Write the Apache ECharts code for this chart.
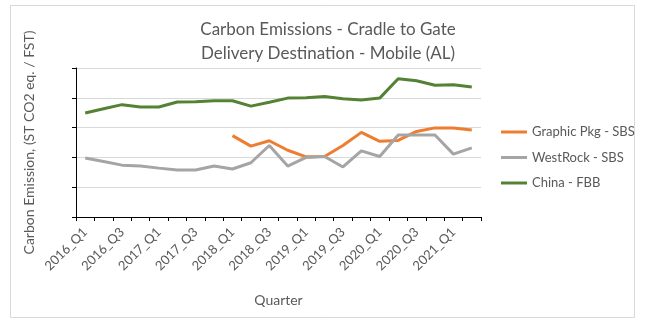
<!DOCTYPE html>
<html>
<head>
<meta charset="utf-8">
<script src="https://cdn.jsdelivr.net/npm/echarts@6/dist/echarts.min.js"></script>
<style>html,body{margin:0;padding:0;background:#fff}#c{width:649px;height:326px}</style>
</head>
<body>
<div id="c"></div>
<script>
const categories = ['2016_Q1','2016_Q2','2016_Q3','2016_Q4','2017_Q1','2017_Q2','2017_Q3','2017_Q4',
  '2018_Q1','2018_Q2','2018_Q3','2018_Q4','2019_Q1','2019_Q2','2019_Q3','2019_Q4',
  '2020_Q1','2020_Q2','2020_Q3','2020_Q4','2021_Q1','2021_Q2'];
const graphicPkg = [null,null,null,null,null,null,null,null,
  2.73,2.38,2.56,2.24,2.02,2.03,2.40,2.84,2.54,2.57,2.87,2.99,2.99,2.92];
const westRock = [1.98,1.86,1.74,1.71,1.64,1.58,1.58,1.71,1.61,1.82,2.40,1.71,
  2.00,2.03,1.68,2.22,2.03,2.75,2.75,2.75,2.11,2.32];
const china = [3.49,3.63,3.77,3.69,3.69,3.86,3.87,3.90,3.90,3.72,3.85,3.99,
  4.00,4.04,3.97,3.93,3.99,4.64,4.57,4.42,4.44,4.36];
const seriesNames = ['Graphic Pkg - SBS','WestRock - SBS','China - FBB'];

const FONT = 'Lato, "Open Sans", sans-serif';
const chart = echarts.init(document.getElementById('c'), null, {renderer:'canvas'});
chart.setOption({
  animation:false,
  backgroundColor:'#fff',
  textStyle:{fontFamily:FONT},
  title:{
    text:'Carbon Emissions - Cradle to Gate\nDelivery Destination - Mobile (AL)',
    left:323, top:13, textAlign:'center',
    textStyle:{fontFamily:FONT,fontSize:17,fontWeight:'normal',color:'#595959',lineHeight:23.5}
  },
  graphic:[{type:'rect',shape:{x:10.5,y:5.5,width:624,height:312},
    style:{fill:'none',stroke:'#d9d9d9',lineWidth:1},silent:true}],
  legend:{
    orient:'vertical', left:496, top:119,
    itemWidth:26, itemHeight:3, itemGap:9.5, icon:'rect',
    textStyle:{fontFamily:FONT,fontSize:13,color:'#595959',lineHeight:16},
    data:seriesNames
  },
  grid:{left:76,top:68,width:405,height:149},
  xAxis:{
    type:'category', data:categories, boundaryGap:true,
    name:'Quarter', nameLocation:'middle', nameGap:76,
    nameTextStyle:{fontFamily:FONT,fontSize:14,color:'#595959'},
    axisLine:{lineStyle:{color:'#000',width:1}},
    axisTick:{show:true,interval:0,length:4,lineStyle:{color:'#000'}},
    axisLabel:{interval:1,rotate:45,fontSize:13,color:'#595959',margin:13,fontFamily:FONT}
  },
  yAxis:{
    type:'value', min:0, max:5, interval:1,
    name:'Carbon Emission, (ST CO2 eq. / FST)', nameLocation:'middle', nameGap:40, nameRotate:90,
    nameTextStyle:{fontFamily:FONT,fontSize:14,color:'#595959'},
    axisLine:{show:true,lineStyle:{color:'#000',width:1}},
    axisTick:{show:true,length:4,lineStyle:{color:'#000'}},
    axisLabel:{show:false},
    splitLine:{show:true,lineStyle:{color:'#d9d9d9',width:1}}
  },
  series:[
    {name:seriesNames[0],type:'line',data:graphicPkg,showSymbol:false,symbol:'none',
     lineStyle:{width:3,color:'#ED7D31'},itemStyle:{color:'#ED7D31'}},
    {name:seriesNames[1],type:'line',data:westRock,showSymbol:false,symbol:'none',
     lineStyle:{width:3,color:'#A5A5A5'},itemStyle:{color:'#A5A5A5'}},
    {name:seriesNames[2],type:'line',data:china,showSymbol:false,symbol:'none',
     lineStyle:{width:3,color:'#548235'},itemStyle:{color:'#548235'}}
  ]
});
</script>
</body>
</html>
